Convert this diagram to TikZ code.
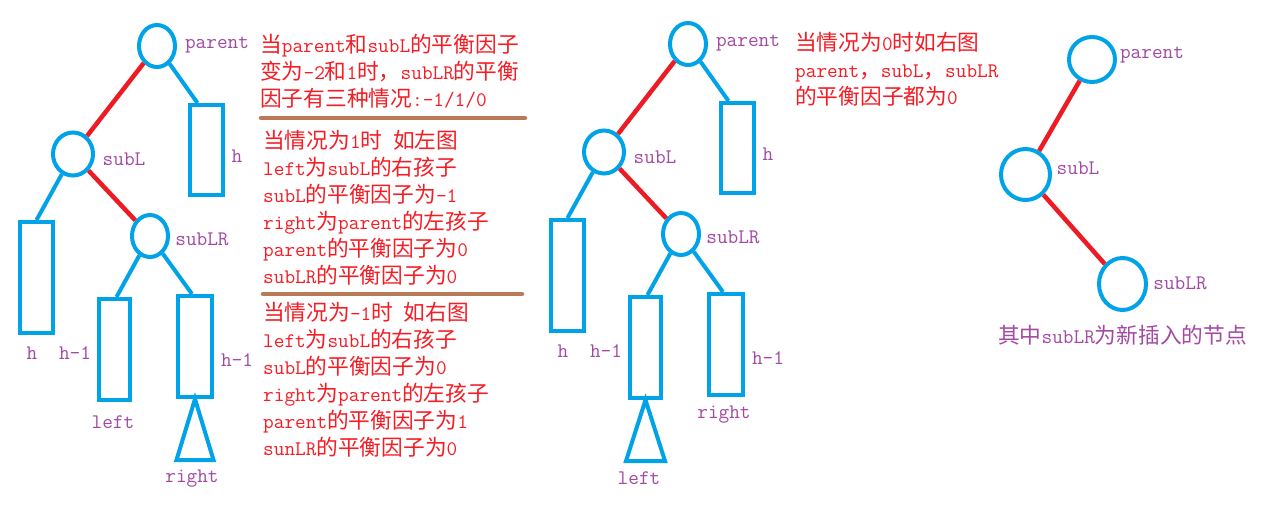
\documentclass[tikz,border=0pt]{standalone}
\usepackage{fontspec}
\setmainfont{Noto Sans CJK SC}
\usetikzlibrary{shapes.geometric}
\definecolor{pblue}{HTML}{00A2E8}
\definecolor{pred}{HTML}{ED1C24}
\definecolor{pbrown}{HTML}{B97A57}
\definecolor{ppurple}{HTML}{A349A4}
\definecolor{tred}{HTML}{F51C24}
\newcommand\E[1]{{\ttfamily\fontsize{20.7pt}{24pt}\selectfont #1}}
\tikzset{
  nd/.style={ellipse, draw=pblue, line width=4pt, inner sep=0pt},
  bx/.style={rectangle, draw=pblue, line width=4pt, inner sep=0pt},
  bl/.style={draw=pblue, line width=4pt},
  rd/.style={draw=pred, line width=4.5pt},
  sepline/.style={draw=pbrown, line width=4.5pt, line cap=round},
  lbl/.style={text=ppurple, font=\ttfamily\fontsize{20.7pt}{24pt}\selectfont, inner sep=0pt},
  txt/.style={text=tred, font=\fontsize{21.7pt}{27pt}\selectfont, anchor=base west, inner sep=0pt},
  ptxt/.style={txt, text=ppurple},
}
\begin{document}
\begin{tikzpicture}[x=1pt,y=-1pt]
\fill[white] (0,0) rectangle (1267,523);
\useasboundingbox (0,0) rectangle (1267,523);

% ---------- left tree ----------
\node[nd, minimum width=36pt, minimum height=42pt] (Lp) at (157,46) {};
\node[nd, minimum width=40pt, minimum height=43pt] (Ls) at (73,154) {};
\node[nd, minimum width=36pt, minimum height=42pt] (Llr) at (150,236) {};
\node[bx, minimum width=33pt, minimum height=90pt] (Lh) at (206.5,150) {};
\node[bx, minimum width=33pt, minimum height=111pt] (Lhl) at (36.5,277.5) {};
\node[bx, minimum width=31pt, minimum height=101pt] (Lleft) at (114.5,349.5) {};
\node[bx, minimum width=34pt, minimum height=101pt] (Lright) at (195,346.5) {};
\draw[rd] (Lp) -- (Ls);
\draw[rd] (Ls) -- (Llr);
\draw[bl] (Lp) -- ([xshift=-9pt]Lh.north);
\draw[bl] (Ls) -- (Lhl.north);
\draw[bl] (Llr) -- ([xshift=2pt]Lleft.north);
\draw[bl] (Llr) -- ([xshift=-3pt]Lright.north);
\draw[bl, line join=miter] (Lright.south) -- ++(-18.5,61) -- ++(37,0) -- cycle;
\node[lbl] (Llp) at (217,45) {parent};
\node[lbl] (Lls) at (124,159) {subL};
\node[lbl] (Llh) at (237,156) {h};
\node[lbl] (Lllr) at (202,239) {subLR};
\node[lbl] (Llh2) at (32,353) {h};
\node[lbl] (Llh3) at (75,353) {h-1};
\node[lbl] (Llleft) at (113,422) {left};
\node[lbl] (Llh4) at (237,360) {h-1};
\node[lbl] (Llright) at (192,479) {right};

% ---------- middle tree ----------
\begin{scope}[shift={(531,-2)}]
\node[nd, minimum width=36pt, minimum height=42pt] (Mp) at (157,46) {};
\node[nd, minimum width=40pt, minimum height=43pt] (Ms) at (73,154) {};
\node[nd, minimum width=36pt, minimum height=42pt] (Mlr) at (150,236) {};
\node[bx, minimum width=33pt, minimum height=90pt] (Mh) at (206.5,150) {};
\node[bx, minimum width=33pt, minimum height=111pt] (Mhl) at (36.5,277.5) {};
\node[bx, minimum width=31pt, minimum height=101pt] (Mleft) at (114.5,349.5) {};
\node[bx, minimum width=34pt, minimum height=101pt] (Mright) at (195,346.5) {};
\draw[rd] (Mp) -- (Ms);
\draw[rd] (Ms) -- (Mlr);
\draw[bl] (Mp) -- ([xshift=-9pt]Mh.north);
\draw[bl] (Ms) -- (Mhl.north);
\draw[bl] (Mlr) -- ([xshift=2pt]Mleft.north);
\draw[bl] (Mlr) -- ([xshift=-3pt]Mright.north);
\draw[bl, line join=miter] (Mleft.south) -- ++(-19.5,61) -- ++(39,0) -- cycle;
\node[lbl] (Mlp) at (217,45) {parent};
\node[lbl] (Mls) at (124,159) {subL};
\node[lbl] (Mlh) at (237,156) {h};
\node[lbl] (Mllr) at (202,239) {subLR};
\node[lbl] (Mlh2) at (32,353) {h};
\node[lbl] (Mlh3) at (75,353) {h-1};
\node[lbl] (Mlleft) at (108,480) {left};
\node[lbl] (Mlh4) at (237,360) {h-1};
\node[lbl] (Mlright) at (193,417) {right};
\end{scope}

% ---------- right tree ----------
\node[nd, minimum width=46pt, minimum height=45pt] (Rp) at (1092,59.5) {};
\node[nd, minimum width=49pt, minimum height=51pt] (Rs) at (1025.5,174.5) {};
\node[nd, minimum width=47pt, minimum height=52pt] (Rlr) at (1122.5,284) {};
\draw[rd] (Rp) -- (Rs);
\draw[rd] (Rs) -- (Rlr);
\node[lbl] (Rlp) at (1152,55) {parent};
\node[lbl] (Rls) at (1078,168) {subL};
\node[lbl] (Rllr) at (1180,283) {subLR};
\node[ptxt] (Rnote) at (998,343) {其中\E{subLR}为新插入的节点};

% ---------- texts ----------
\node[txt] (a1) at (260,52) {当\E{parent}和\E{subL}的平衡因子};
\node[txt] (a2) at (260,79) {变为\E{-2}和\E{1}时，\E{subLR}的平衡};
\node[txt] (a3) at (260,106) {因子有三种情况\E{:-1/1/0}};
\draw[sepline] (261,118) -- (525,118);
\node[txt] (b1) at (263,148) {当情况为\E{1}时\hspace{10.9pt}如左图};
\node[txt] (b2) at (263,175) {\E{left}为\E{subL}的右孩子};
\node[txt] (b3) at (263,202) {\E{subL}的平衡因子为\E{-1}};
\node[txt] (b4) at (263,229) {\E{right}为\E{parent}的左孩子};
\node[txt] (b5) at (263,256) {\E{parent}的平衡因子为\E{0}};
\node[txt] (b6) at (263,283) {\E{subLR}的平衡因子为\E{0}};
\draw[sepline] (263,294) -- (522,294);
\node[txt] (c1) at (263,320) {当情况为\E{-1}时\hspace{10.9pt}如右图};
\node[txt] (c2) at (263,347) {\E{left}为\E{subL}的右孩子};
\node[txt] (c3) at (263,374) {\E{subL}的平衡因子为\E{0}};
\node[txt] (c4) at (263,401) {\E{right}为\E{parent}的左孩子};
\node[txt] (c5) at (263,428) {\E{parent}的平衡因子为\E{1}};
\node[txt] (c6) at (263,455) {\E{sunLR}的平衡因子为\E{0}};
\node[txt] (d1) at (795,50) {当情况为\E{0}时如右图};
\node[txt] (d2) at (795,77) {\E{parent}，\E{subL}，\E{subLR}};
\node[txt] (d3) at (795,104) {的平衡因子都为\E{0}};
\end{tikzpicture}
\end{document}
